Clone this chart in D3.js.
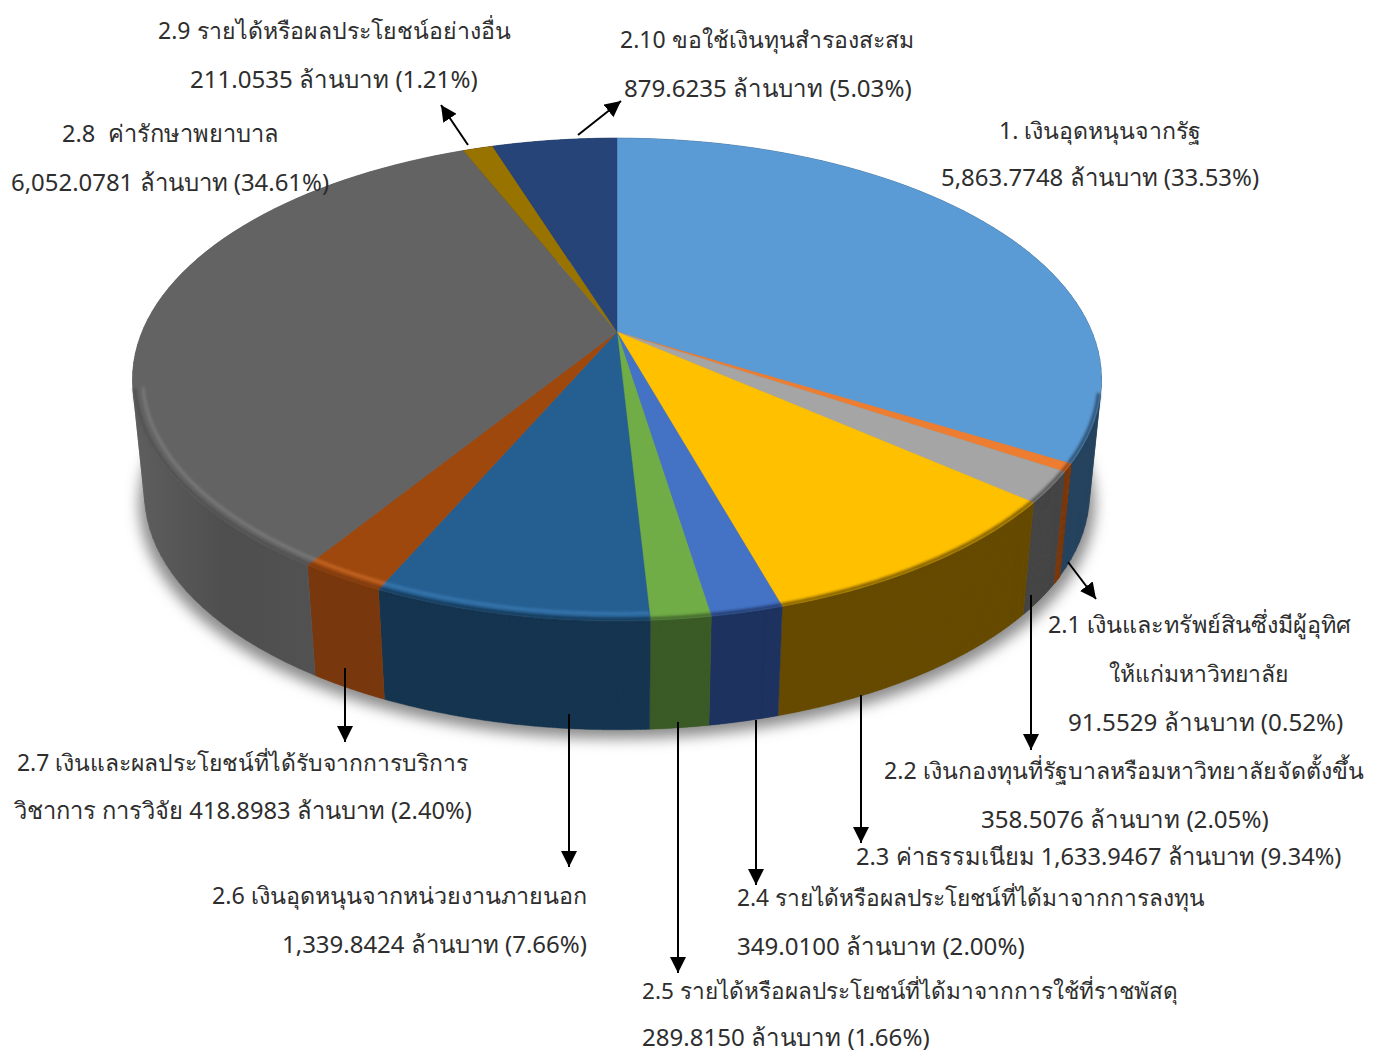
<!DOCTYPE html>
<html>
<head>
<meta charset="utf-8">
<script src="https://cdn.jsdelivr.net/npm/d3@7"></script>
<style>
  html, body { margin: 0; padding: 0; background: #fff; }
  text { font-family: "Noto Sans", "Open Sans", sans-serif; fill: #2e2e2e; white-space: pre; }
</style>
</head>
<body>
<svg id="chart" width="1378" height="1052"></svg>
<script>
// slices, clockwise from 12 o'clock
var categories = ["1", "2.1", "2.2", "2.3", "2.4", "2.5", "2.6", "2.7", "2.8", "2.9", "2.10"];
var amounts = [5863.7748, 91.5529, 358.5076, 1633.9467, 349.0100, 289.8150, 1339.8424, 418.8983, 6052.0781, 211.0535, 879.6235];
var topColors = ["#5b9bd5", "#ed7d31", "#a5a5a5", "#ffc000", "#4472c4", "#70ad47", "#255e91", "#9e480e", "#636363", "#997300", "#264478"];
var sideColors = ["#25435e", "#7f3c12", "#474747", "#654a00", "#1f335f", "#3b5a27", "#15344f", "#78370c", "url(#wallGrey)", "#544000", "#152a4a"];
var edgeColors = ["#25435e", "#7f3c12", "#474747", "#654a00", "#1f335f", "#3b5a27", "#15344f", "#78370c", "#4e4e4e", "#544000", "#152a4a"];
var rimColors = [null, null, null, null, null, null, "#3a7db5", "#cf6e2c", "#7e7e7e", null, null];

var labelLines = [
  "1. เงินอุดหนุนจากรัฐ", "5,863.7748 ล้านบาท (33.53%)",
  "2.10 ขอใช้เงินทุนสำรองสะสม", "879.6235 ล้านบาท (5.03%)",
  "2.9 รายได้หรือผลประโยชน์อย่างอื่น", "211.0535 ล้านบาท (1.21%)",
  "2.8  ค่ารักษาพยาบาล", "6,052.0781 ล้านบาท (34.61%)",
  "2.1 เงินและทรัพย์สินซึ่งมีผู้อุทิศ", "ให้แก่มหาวิทยาลัย", "91.5529 ล้านบาท (0.52%)",
  "2.2 เงินกองทุนที่รัฐบาลหรือมหาวิทยาลัยจัดตั้งขึ้น", "358.5076 ล้านบาท (2.05%)",
  "2.3 ค่าธรรมเนียม 1,633.9467 ล้านบาท (9.34%)",
  "2.4 รายได้หรือผลประโยชน์ที่ได้มาจากการลงทุน", "349.0100 ล้านบาท (2.00%)",
  "2.5 รายได้หรือผลประโยชน์ที่ได้มาจากการใช้ที่ราชพัสดุ", "289.8150 ล้านบาท (1.66%)",
  "2.6 เงินอุดหนุนจากหน่วยงานภายนอก", "1,339.8424 ล้านบาท (7.66%)",
  "2.7 เงินและผลประโยชน์ที่ได้รับจากการบริการ", "วิชาการ การวิจัย 418.8983 ล้านบาท (2.40%)"
];
// x0, x1, middle y of each line
var labelBoxes = [
  [999, 1200, 130], [941, 1259, 177],
  [620, 913, 39], [624, 910, 88],
  [158, 507, 30], [190, 476, 79],
  [62, 277, 133], [11, 329, 182],
  [1048, 1352, 624], [1109, 1289, 673], [1068, 1341, 722],
  [884, 1364, 770], [981, 1267, 819],
  [856, 1340, 856],
  [737, 1206, 897], [737, 1023, 946],
  [642, 1177, 990], [642, 928, 1037],
  [212, 585, 895], [282, 587, 944],
  [17, 468, 762], [14, 471, 810]
];
var arrows = [
  [578, 135, 621, 101], [468, 145, 441, 105], [1068, 562, 1096, 599],
  [1031, 595, 1031, 750], [861, 695, 861, 843], [756, 720, 756, 885],
  [678, 722, 678, 973], [569, 714, 569, 867], [345, 668, 345, 742]
];

const svg = d3.select("#chart");
const defs = svg.append("defs");
defs.append("filter").attr("id", "shadowBlur").attr("x", "-10%").attr("y", "-10%").attr("width", "120%").attr("height", "120%")
  .append("feGaussianBlur").attr("stdDeviation", 7);
defs.append("filter").attr("id", "rimBlur").attr("filterUnits", "userSpaceOnUse")
  .attr("x", 0).attr("y", 0).attr("width", 1378).attr("height", 1052)
  .append("feGaussianBlur").attr("stdDeviation", 1.6);
defs.append("marker").attr("id", "head").attr("markerUnits", "userSpaceOnUse")
  .attr("viewBox", "0 -8 16 16").attr("refX", 16).attr("refY", 0)
  .attr("markerWidth", 16).attr("markerHeight", 16).attr("orient", "auto")
  .append("path").attr("d", "M0,-8L16,0L0,8Z").attr("fill", "#000");
const wallGrey = defs.append("linearGradient").attr("id", "wallGrey")
  .attr("gradientUnits", "userSpaceOnUse").attr("x1", 135).attr("x2", 320).attr("y1", 0).attr("y2", 0);
wallGrey.append("stop").attr("offset", 0).attr("stop-color", "#5e5e5e");
wallGrey.append("stop").attr("offset", 0.5).attr("stop-color", "#4e4e4e");
wallGrey.append("stop").attr("offset", 1).attr("stop-color", "#525252");

// the tilted disc: apex off-centre, so a homography instead of a plain ellipse
const apex = { x: 617, y: 332 }, R = 475, S = 232, k = 0.1967;
function topPoint(a, r) {
  const u = r * Math.sin(a), v = -r * Math.cos(a), w = 1 - k * v;
  return [apex.x + R * u / w, apex.y + S * v / w];
}
// lower rim shrinks a bit with depth
function lowPoint(a) {
  const p = topPoint(a, 1);
  return [apex.x + 0.975 * (p[0] - apex.x), 380 + 0.975 * (p[1] - 380) + 115];
}
function arcSteps(d) {
  return d3.range(0, 61).map(i => d.startAngle + (d.endAngle - d.startAngle) * i / 60);
}
// only the part of the rim that faces the viewer gets a bevel
function frontSteps(d) {
  return arcSteps(d).filter(a => Math.cos(a) < -0.22);
}
// all quads wound the same way, or the overlaps at the sides cancel out
function wallQuad(q) {
  const pts = [topPoint(q[0], 1), topPoint(q[1], 1), lowPoint(q[1]), lowPoint(q[0])];
  return line(d3.polygonArea(pts) < 0 ? pts.reverse() : pts) + "Z";
}
const line = d3.line();

const slices = d3.pie().sort(null)(amounts);

// soft shadow under the disc
svg.append("path")
  .attr("d", line(d3.range(0, 181).map(i => {
    const p = lowPoint(i / 180 * 2 * Math.PI);
    return [apex.x + 1.012 * (p[0] - apex.x), p[1] + 9];
  })) + "Z")
  .attr("fill", "#8c8c8c")
  .attr("filter", "url(#shadowBlur)");

// one wall path per slice, made of thin quads, the top face hides the back ones
svg.append("g").selectAll("path").data(slices).join("path")
  .attr("d", d => d3.pairs(arcSteps(d)).map(wallQuad).join(""))
  .attr("fill", (d, i) => sideColors[i])
  .attr("stroke", (d, i) => sideColors[i])
  .attr("stroke-width", 0.4);

svg.append("g").selectAll("path").data(slices).join("path")
  .attr("d", d => line([[apex.x, apex.y]].concat(arcSteps(d).map(a => topPoint(a, 1)))) + "Z")
  .attr("fill", (d, i) => topColors[i])
  .attr("stroke", (d, i) => topColors[i])
  .attr("stroke-width", 0.4);

// bevel: dark blur on the edge, lighter band on the left front
const rim = svg.append("g").attr("filter", "url(#rimBlur)").attr("fill", "none");
rim.selectAll("path.edge").data(slices.filter(d => frontSteps(d).length > 1)).join("path").attr("class", "edge")
  .attr("d", d => line(frontSteps(d).map(a => topPoint(a, 0.996))))
  .attr("stroke", d => edgeColors[d.index])
  .attr("stroke-width", 3);
rim.selectAll("path.light").data(slices.filter((d, i) => rimColors[i])).join("path").attr("class", "light")
  .attr("d", d => line(frontSteps(d).map(a => topPoint(a, 0.98))))
  .attr("stroke", d => rimColors[d.index])
  .attr("stroke-width", 2.5);

svg.append("g").selectAll("line").data(arrows).join("line")
  .attr("x1", d => d[0]).attr("y1", d => d[1])
  .attr("x2", d => d[2]).attr("y2", d => d[3])
  .attr("stroke", "#000").attr("stroke-width", 2)
  .attr("marker-end", "url(#head)");

// each line is sized to fill the width it has in the picture
svg.append("g").selectAll("text").data(labelLines).join("text")
  .attr("x", (d, i) => labelBoxes[i][0])
  .attr("y", (d, i) => labelBoxes[i][2] + 9)
  .attr("font-size", 24)
  .text(d => d)
  .attr("font-size", function (d, i) {
    return 24 * (labelBoxes[i][1] - labelBoxes[i][0]) / this.getComputedTextLength();
  });
</script>
</body>
</html>
